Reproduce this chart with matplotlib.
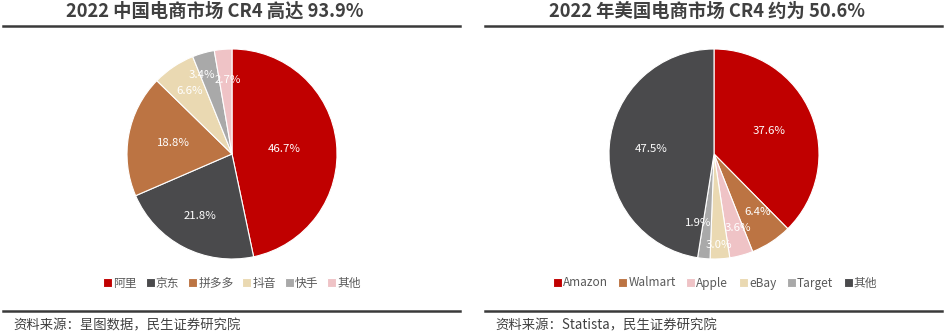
import matplotlib
matplotlib.use('Agg')
import matplotlib.pyplot as plt
from matplotlib.lines import Line2D
import numpy as np

plt.rcParams['font.family'] = ['Noto Sans CJK SC', 'DejaVu Sans']

# 数据
cn_labels = ['阿里', '京东', '拼多多', '抖音', '快手', '其他']
cn_values = [46.7, 21.8, 18.8, 6.6, 3.4, 2.7]
us_labels = ['Amazon', 'Walmart', 'Apple', 'eBay', 'Target', '其他']
us_values = [37.6, 6.4, 3.6, 3.0, 1.9, 47.5]

cn_title = '2022 中国电商市场 CR4 高达 93.9%'
us_title = '2022 年美国电商市场 CR4 约为 50.6%'
cn_source = '资料来源：星图数据，民生证券研究院'
us_source = '资料来源：Statista，民生证券研究院'

# 颜色
RED = '#C00000'
DARK = '#4A4A4C'
BROWN = '#BC7443'
BEIGE = '#EAD9B2'
GRAY = '#A9A9A9'
PINK = '#EFC3C6'
cn_colors = [RED, DARK, BROWN, BEIGE, GRAY, PINK]
us_colors = [RED, BROWN, PINK, BEIGE, GRAY, DARK]

# 标签位置：离圆心的距离（半径比例）和角度微调（度）
cn_dist = [0.50, 0.67, 0.57, 0.72, 0.81, 0.71]
cn_shift = [0, 0, 0, 0, 5, -2]
us_dist = [0.57, 0.69, 0.74, 0.87, 0.67, 0.60]
us_shift = [0, 4, 3, 0, -7, 0]

W, H = 945, 334
fig = plt.figure(figsize=(W / 100, H / 100), dpi=100)
TXT = '#404040'


def draw_pie(cx, cy, r, values, colors, dists, shifts):
    ax = fig.add_axes([(cx - r) / W, (H - cy - r) / H, 2 * r / W, 2 * r / H])
    wedges, _ = ax.pie(values, colors=colors, startangle=90, counterclock=False,
                       wedgeprops=dict(edgecolor='white', linewidth=0.8))
    start = 90.0
    total = sum(values)
    for v, d, s in zip(values, dists, shifts):
        mid = np.deg2rad(start - v / total * 180 + s)
        start -= v / total * 360
        ax.text(d * np.cos(mid), d * np.sin(mid), f'{v:.1f}%', ha='center', va='center',
                color='white', fontsize=8.2)
    ax.set_xlim(-1, 1)
    ax.set_ylim(-1, 1)
    ax.set_aspect('equal')
    ax.axis('off')
    return wedges


def hline(x0, x1, y):
    fig.add_artist(Line2D([x0 / W, x1 / W], [1 - y / H, 1 - y / H], color='#3A3A3A', lw=1.8))


# 左图
fig.text(215 / W, 1 - 11 / H, cn_title, ha='center', va='center', fontsize=13.2,
         fontweight='bold', color=TXT)
hline(3, 460, 26)
w1 = draw_pie(232, 154, 105, cn_values, cn_colors, cn_dist, cn_shift)
fig.legend(w1, cn_labels, loc='center', bbox_to_anchor=(232 / W, 1 - 283 / H), ncol=6,
           frameon=False, fontsize=8.5, handlelength=0.75, handleheight=0.75,
           handletextpad=0.1, columnspacing=0.75, labelcolor='#595959')
hline(3, 460, 311)
fig.text(13 / W, 1 - 325 / H, cn_source, ha='left', va='center', fontsize=9.6, color=TXT)

# 右图
fig.text(707 / W, 1 - 11 / H, us_title, ha='center', va='center', fontsize=13.2,
         fontweight='bold', color=TXT)
hline(485, 942, 26)
w2 = draw_pie(714, 154, 105, us_values, us_colors, us_dist, us_shift)
fig.legend(w2, us_labels, loc='center', bbox_to_anchor=(715 / W, 1 - 283 / H), ncol=6,
           frameon=False, fontsize=8.5, handlelength=0.75, handleheight=0.75,
           handletextpad=0.1, columnspacing=0.9, labelcolor='#595959')
hline(485, 942, 311)
fig.text(495 / W, 1 - 325 / H, us_source, ha='left', va='center', fontsize=9.6, color=TXT)

fig.savefig('out.png', dpi=100)
